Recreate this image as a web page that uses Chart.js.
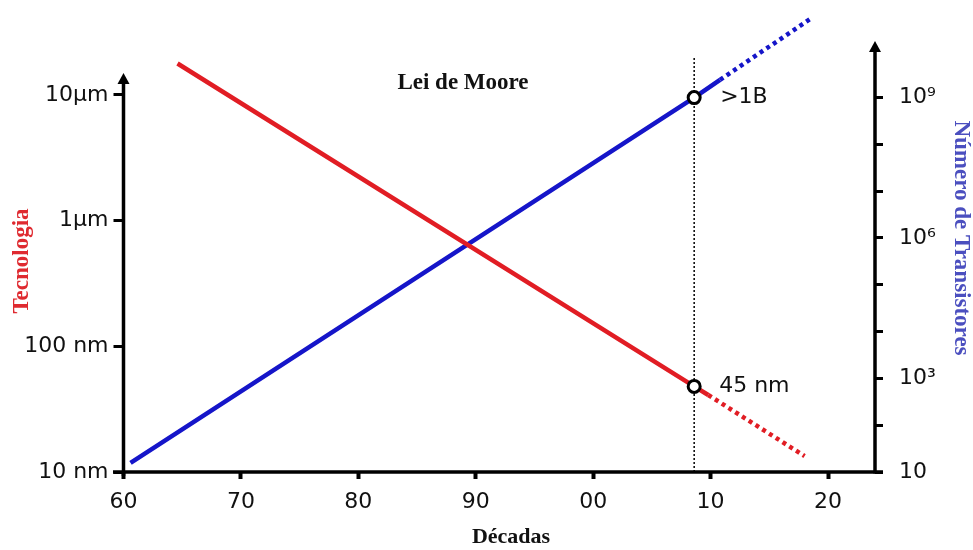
<!DOCTYPE html>
<html>
<head>
<meta charset="utf-8">
<script src="https://cdn.jsdelivr.net/npm/chart.js@4/dist/chart.umd.min.js"></script>
<style>
  html, body { margin: 0; padding: 0; background: #fff; }
  #wrap { width: 973px; height: 550px; }
</style>
</head>
<body>
<div id="wrap"><canvas id="c" width="973" height="550"></canvas></div>
<script>
// ---- data ----
const xTickYears = [1960, 1970, 1980, 1990, 2000, 2010, 2020];
const xTickLabels = ['60', '70', '80', '90', '00', '10', '20'];

const techTickValues = [10, 100, 1000, 10000];            // nm
const techTickLabels = ['10 nm', '100 nm', '1\u03bcm', '10\u03bcm'];

const transTickValues = [1e1, 1e2, 1e3, 1e4, 1e5, 1e6, 1e7, 1e8, 1e9];
const transTickLabels = ['10', '', '10\u00b3', '', '', '10\u2076', '', '', '10\u2079'];

// Tecnologia (nm) – solid part and dotted projection
const techYears = [1964.6, 2008.6, 2009.8];
const techNm = [17800, 48, 41];
const techProjYears = [2009.8, 2018.0];
const techProjNm = [41, 13.4];

// Número de transistores – solid part and dotted projection
const transYears = [1960.6, 2008.6, 2010.8];
const transCount = [15.6, 1e9, 2.4e9];
const transProjYears = [2010.8, 2018.7];
const transProjCount = [2.4e9, 5.2e10];

// Milestones
const milestoneYear = 2008.6;
const techMilestoneNm = 48;
const transMilestoneCount = 1e9;
const techMilestoneLabel = '45 nm';
const transMilestoneLabel = '>1B';
const guideNm = [10, 20000];

const RED = '#e11d24';
const BLUE = '#1515c9';

const pts = (xs, ys) => xs.map((x, i) => ({ x: x, y: ys[i] }));

const axesPlugin = {
  id: 'axesAndText',
  afterDraw(chart) {
    const ctx = chart.ctx;
    const ca = chart.chartArea;
    ctx.save();
    ctx.strokeStyle = '#000';
    ctx.fillStyle = '#000';
    ctx.lineWidth = 3.5;
    ctx.lineCap = 'butt';
    // x axis
    ctx.beginPath();
    ctx.moveTo(113, ca.bottom);
    ctx.lineTo(883, ca.bottom);
    ctx.stroke();
    // left axis
    const lx = ca.left;
    ctx.beginPath();
    ctx.moveTo(lx, ca.bottom + 4);
    ctx.lineTo(lx, 82);
    ctx.stroke();
    ctx.beginPath();
    ctx.moveTo(lx, 73);
    ctx.lineTo(lx - 6, 84);
    ctx.lineTo(lx + 6, 84);
    ctx.closePath();
    ctx.fill();
    // right axis
    const rx = ca.right;
    ctx.beginPath();
    ctx.moveTo(rx, ca.bottom + 1.5);
    ctx.lineTo(rx, 50);
    ctx.stroke();
    ctx.beginPath();
    ctx.moveTo(rx, 41);
    ctx.lineTo(rx - 6, 52);
    ctx.lineTo(rx + 6, 52);
    ctx.closePath();
    ctx.fill();

    // texts
    ctx.textBaseline = 'middle';
    ctx.textAlign = 'center';
    ctx.font = 'bold 23px "Liberation Serif", "DejaVu Serif", serif';
    ctx.fillStyle = '#111';
    ctx.fillText('Lei de Moore', 463, 83);
    ctx.font = 'bold 22px "Liberation Serif", "DejaVu Serif", serif';
    ctx.fillText('D\u00e9cadas', 511, 537);

    ctx.font = 'bold 23px "Liberation Serif", "DejaVu Serif", serif';
    ctx.save();
    ctx.translate(22, 261);
    ctx.rotate(-Math.PI / 2);
    ctx.fillStyle = '#df2a30';
    ctx.fillText('Tecnologia', 0, 0);
    ctx.restore();

    ctx.save();
    ctx.translate(961, 238);
    ctx.rotate(Math.PI / 2);
    ctx.fillStyle = '#4b4fbf';
    ctx.fillText('N\u00famero de Transistores', 0, 0);
    ctx.restore();

    // milestone labels
    const xs = chart.scales.x;
    const mx = xs.getPixelForValue(milestoneYear);
    ctx.font = '22px "DejaVu Sans", sans-serif';
    ctx.fillStyle = '#111';
    ctx.textAlign = 'left';
    ctx.fillText(techMilestoneLabel, mx + 25, chart.scales.yL.getPixelForValue(techMilestoneNm));
    ctx.fillText(transMilestoneLabel, mx + 26, chart.scales.yR.getPixelForValue(transMilestoneCount));
    ctx.restore();
  }
};

const tickFont = { family: '"DejaVu Sans", sans-serif', size: 22 };

new Chart(document.getElementById('c'), {
  type: 'line',
  data: {
    datasets: [
      {
        label: 'marker tech',
        data: [{ x: milestoneYear, y: techMilestoneNm }],
        yAxisID: 'yL', showLine: false,
        pointRadius: 6, pointBorderWidth: 3, pointBorderColor: '#000', pointBackgroundColor: '#fff',
        clip: false
      },
      {
        label: 'marker trans',
        data: [{ x: milestoneYear, y: transMilestoneCount }],
        yAxisID: 'yR', showLine: false,
        pointRadius: 6, pointBorderWidth: 3, pointBorderColor: '#000', pointBackgroundColor: '#fff',
        clip: false
      },
      {
        label: 'Tecnologia',
        data: pts(techYears, techNm),
        yAxisID: 'yL', borderColor: RED, borderWidth: 4.5, pointRadius: 0, clip: false
      },
      {
        label: 'Tecnologia (projeção)',
        data: pts(techProjYears, techProjNm),
        yAxisID: 'yL', borderColor: RED, borderWidth: 4.5, borderDash: [4, 4], pointRadius: 0, clip: false
      },
      {
        label: 'Número de Transistores',
        data: pts(transYears, transCount),
        yAxisID: 'yR', borderColor: BLUE, borderWidth: 4.5, pointRadius: 0, clip: false
      },
      {
        label: 'Número de Transistores (projeção)',
        data: pts(transProjYears, transProjCount),
        yAxisID: 'yR', borderColor: BLUE, borderWidth: 4.5, borderDash: [4, 4], pointRadius: 0, clip: false
      },
      {
        label: 'guia',
        data: [{ x: milestoneYear, y: guideNm[0] }, { x: milestoneYear, y: guideNm[1] }],
        yAxisID: 'yL', borderColor: '#000', borderWidth: 1.5, borderDash: [2, 2], pointRadius: 0, clip: false
      }
    ]
  },
  options: {
    responsive: false,
    animation: false,
    layout: { padding: { top: 42, left: 0, right: 0, bottom: 0 } },
    plugins: { legend: { display: false }, tooltip: { enabled: false }, title: { display: false } },
    scales: {
      x: {
        type: 'linear', min: 1960, max: 2024,
        afterBuildTicks: s => { s.ticks = xTickYears.map(v => ({ value: v })); },
        afterFit: s => { s.height = 78; },
        ticks: {
          font: tickFont, color: '#111', padding: 10, maxRotation: 0, autoSkip: false,
          callback: v => xTickLabels[xTickYears.indexOf(v)]
        },
        grid: { display: true, drawOnChartArea: false, drawTicks: true, tickLength: 7, tickWidth: 4, color: '#000' },
        border: { display: false }
      },
      yL: {
        type: 'logarithmic', position: 'left', min: 10, max: 26400,
        afterBuildTicks: s => { s.ticks = techTickValues.map(v => ({ value: v })); },
        afterFit: s => { s.width = 123.5; },
        ticks: {
          font: tickFont, color: '#111', padding: 5, autoSkip: false,
          callback: v => { const i = techTickValues.indexOf(v); return i >= 0 ? techTickLabels[i] : ''; }
        },
        grid: { display: true, drawOnChartArea: false, drawTicks: true, tickLength: 10, tickWidth: 3, color: '#000' },
        border: { display: false }
      },
      yR: {
        type: 'logarithmic', position: 'right', min: 10, max: 1.54e10,
        afterBuildTicks: s => { s.ticks = transTickValues.map(v => ({ value: v })); },
        afterFit: s => { s.width = 98; },
        ticks: {
          font: tickFont, color: '#111', padding: 16, autoSkip: false,
          callback: v => { const i = transTickValues.indexOf(v); return i >= 0 ? transTickLabels[i] : ''; }
        },
        grid: { display: true, drawOnChartArea: false, drawTicks: true, tickLength: 8, tickWidth: 3, color: '#000' },
        border: { display: false }
      }
    }
  },
  plugins: [axesPlugin]
});
</script>
</body>
</html>
